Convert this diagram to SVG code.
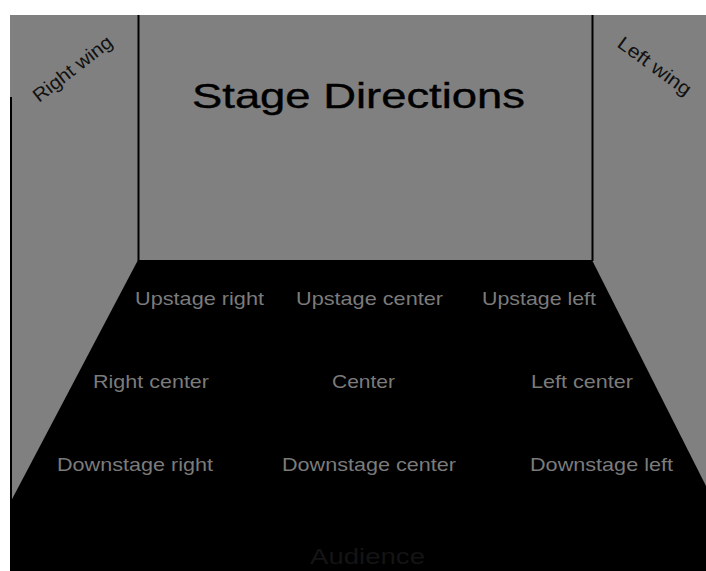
<svg xmlns="http://www.w3.org/2000/svg" width="706" height="571" viewBox="0 0 706 571">
  <style>
    .lbl { font-family: "Liberation Sans", Arial, sans-serif; font-size: 19px; fill: #7b7b7b; }
    .wing { font-family: "Liberation Sans", Arial, sans-serif; font-size: 19px; fill: #111; }
    .wall { stroke: #000; stroke-width: 2; fill: none; }
  </style>
  <rect x="0" y="0" width="706" height="571" fill="#ffffff"/>
  <g id="backdrop">
    <rect x="10" y="15" width="696" height="556" fill="#808080"/>
  </g>
  <g id="floor">
    <polygon points="138,260 592,260 706,486 706,571 10,571 10,503" fill="#000"/>
  </g>
  <g id="connectors">
    <line class="wall" x1="138.5" y1="15" x2="138.5" y2="261"/>
    <line class="wall" x1="592.5" y1="15" x2="592.5" y2="261"/>
    <line class="wall" x1="11" y1="97" x2="11" y2="571"/>
  </g>
  <g id="title">
    <text x="192" y="108" font-family="Liberation Sans, Arial, sans-serif" font-size="35" fill="#000" stroke="#000" stroke-width="0.4" textLength="333" lengthAdjust="spacingAndGlyphs">Stage Directions</text>
  </g>
  <g id="right-wing">
    <text class="wing" x="0" y="0" transform="translate(39,103) rotate(-38)" textLength="95" lengthAdjust="spacingAndGlyphs">Right wing</text>
  </g>
  <g id="left-wing">
    <text class="wing" x="0" y="0" transform="translate(616,46) rotate(36)" textLength="86" lengthAdjust="spacingAndGlyphs">Left wing</text>
  </g>
  <g id="upstage-right"><text class="lbl" x="135" y="305" textLength="129" lengthAdjust="spacingAndGlyphs">Upstage right</text></g>
  <g id="upstage-center"><text class="lbl" x="296" y="305" textLength="147" lengthAdjust="spacingAndGlyphs">Upstage center</text></g>
  <g id="upstage-left"><text class="lbl" x="482" y="305" textLength="114" lengthAdjust="spacingAndGlyphs">Upstage left</text></g>
  <g id="right-center"><text class="lbl" x="93" y="388" textLength="116" lengthAdjust="spacingAndGlyphs">Right center</text></g>
  <g id="center"><text class="lbl" x="332" y="388" textLength="63" lengthAdjust="spacingAndGlyphs">Center</text></g>
  <g id="left-center"><text class="lbl" x="531" y="388" textLength="102" lengthAdjust="spacingAndGlyphs">Left center</text></g>
  <g id="downstage-right"><text class="lbl" x="57" y="471" textLength="156" lengthAdjust="spacingAndGlyphs">Downstage right</text></g>
  <g id="downstage-center"><text class="lbl" x="282" y="471" textLength="174" lengthAdjust="spacingAndGlyphs">Downstage center</text></g>
  <g id="downstage-left"><text class="lbl" x="530" y="471" textLength="143" lengthAdjust="spacingAndGlyphs">Downstage left</text></g>
  <g id="audience">
    <text x="310" y="564" font-family="Liberation Sans, Arial, sans-serif" font-size="22" fill="#141414" textLength="115" lengthAdjust="spacingAndGlyphs">Audience</text>
  </g>
</svg>
